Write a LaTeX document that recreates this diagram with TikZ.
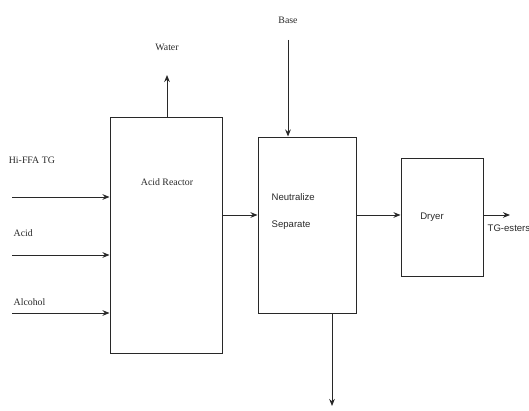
\documentclass[tikz,border=0pt]{standalone}
\usepackage{fontspec}
\setmainfont{Liberation Serif}
\setsansfont{Liberation Sans}
\usepackage{tikz}
\usetikzlibrary{arrows.meta, positioning}
\definecolor{mydark}{RGB}{40,40,40}
\tikzset{
  unitbox/.style={rectangle, draw=mydark, line width=0.7pt, inner sep=0pt},
  arrow/.style={-{Stealth[length=5pt, width=4pt]}, line width=0.7pt, color=mydark},
  line/.style={line width=0.7pt, color=mydark},
  lbl/.style={font=\fontsize{7}{8.5}\selectfont, text=mydark, inner sep=1pt},
  sflbl/.style={font=\sffamily\fontsize{6.8}{9}\selectfont, text=mydark, inner sep=1pt}
}
\begin{document}
\begin{tikzpicture}
  \useasboundingbox (0,0) rectangle (13.225,10.25);

  % Process units
  \node[unitbox, minimum width=2.8cm, minimum height=5.9cm] (reactor) at (4.15,4.375) {};
  \node[unitbox, minimum width=2.45cm, minimum height=4.4cm] (neutral) at (7.675,4.625) {};
  \node[unitbox, minimum width=2.05cm, minimum height=2.95cm] (dryer) at (11.05,4.825) {};

  % Unit labels
  \node[lbl] (reactorlbl) at (4.175,5.7) {Acid Reactor};
  \node[sflbl, align=left, anchor=west, font=\sffamily\fontsize{6.8}{19}\selectfont] (neutrallbl) at (6.75,4.96) {Neutralize\\Separate};
  \node[sflbl] (dryerlbl) at (10.8,4.825) {Dryer};

  % Feeds
  \coordinate (hiffa) at (0.3,5.325);
  \coordinate (acid) at (0.3,3.875);
  \coordinate (alcohol) at (0.3,2.425);
  \draw[arrow] (hiffa) -- (reactor.west |- hiffa);
  \draw[arrow] (acid) -- (reactor.west |- acid);
  \draw[arrow] (alcohol) -- (reactor.west |- alcohol);
  \node[lbl, anchor=west] (hiffalbl) at (0.18,6.25) {Hi-FFA TG};
  \node[lbl, anchor=west] (acidlbl) at (0.3,4.425) {Acid};
  \node[lbl, anchor=west] (alcohollbl) at (0.3,2.7) {Alcohol};

  % Water off the reactor
  \coordinate (water) at (4.175,8.375);
  \draw[arrow] (reactor.north -| water) -- (water);
  \node[lbl] (waterlbl) at (4.175,9.075) {Water};

  % Base into the separator
  \node[lbl] (baselbl) at (7.2,9.75) {Base};
  \coordinate (base) at (7.2,9.25);
  \draw[arrow] (base) -- (neutral.north -| base);

  % Main flow
  \coordinate (flow) at (0,4.875);
  \draw[arrow] (reactor.east |- flow) -- (neutral.west |- flow);
  \draw[arrow] (neutral.east |- flow) -- (dryer.west |- flow);
  \coordinate (product) at (12.75,4.875);
  \draw[arrow] (dryer.east |- product) -- (product);
  \node[sflbl, anchor=west] (productlbl) at (12.15,4.55) {TG-esters};

  % Bottom stream
  \coordinate (bottom) at (8.3,0.1);
  \draw[arrow] (neutral.south -| bottom) -- (bottom);
\end{tikzpicture}
\end{document}
